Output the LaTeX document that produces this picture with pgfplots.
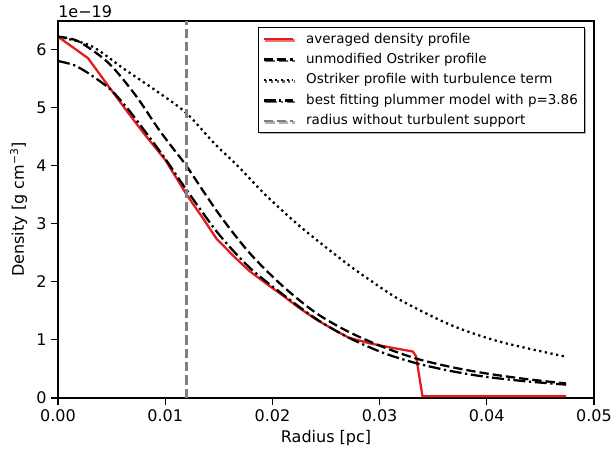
\documentclass[border=0pt]{standalone}
\usepackage{pgfplots}
\pgfplotsset{compat=1.18}
\usepackage{fontspec}
\setmainfont{DejaVu Sans}
\usetikzlibrary{shadows}
\definecolor{profred}{RGB}{228,26,28}
\definecolor{radgray}{RGB}{128,128,128}
\pgfplotsset{legend image code/.code={%
  \path (0pt,0pt) (29pt,0pt);
  \draw[#1] (0pt,0pt) -- (22pt,0pt);}}

\begin{document}
\begin{tikzpicture}
\begin{axis}[
    at={(0,0)}, anchor=south west,
    scale only axis, width=402pt, height=282.75pt,
    xmin=0, xmax=0.05, ymin=0, ymax=6.49,
    scaled x ticks=false, scaled y ticks=false,
    xtick={0,0.01,0.02,0.03,0.04,0.05},
    xticklabels={0.00,0.01,0.02,0.03,0.04,0.05},
    ytick={0,1,2,3,4,5,6},
    tick align=outside, tick pos=left,
    major tick length=5pt,
    every tick/.style={black, line width=0.8pt},
    axis line style={line width=1.9pt},
    ticklabel style={font=\fontsize{12}{14}\selectfont},
    label style={font=\fontsize{12}{14}\selectfont},
    /pgf/number format/assume math mode=true,
    xlabel={Radius [pc]},
    ylabel={Density [g cm\textsuperscript{−3}]},
    legend style={at={(0.983,0.984)}, anchor=north east, draw=black,
      line width=0.6pt, fill=white, row sep=2.2pt,
      drop shadow={shadow xshift=1.2pt, shadow yshift=-1.2pt, opacity=0.6},
      font=\fontsize{10.1}{13}\selectfont, cells={anchor=west}},
    every axis plot/.append style={line width=1.7pt},
  ]
% averaged density profile
\addplot[profred] coordinates {
  (0,6.22) (0.0028,5.85) (0.0047,5.37) (0.0065,4.92) (0.0082,4.51)
  (0.0100,4.10) (0.0120,3.50) (0.0135,3.10) (0.0148,2.74) (0.0165,2.42)
  (0.0179,2.18) (0.0195,1.96) (0.0210,1.76) (0.0225,1.55) (0.0241,1.35)
  (0.0256,1.19) (0.0271,1.04) (0.0291,0.94) (0.0310,0.87) (0.0331,0.80)
  (0.0334,0.72) (0.0340,0.03) (0.0474,0.03)};
% unmodified Ostriker
\addplot[black, smooth, dash pattern=on 7pt off 3pt] coordinates {
  (0,6.22) (0.0019,6.14) (0.0047,5.77) (0.0072,5.22) (0.0093,4.65)
  (0.0108,4.28) (0.0120,3.99) (0.0150,3.17) (0.0179,2.49) (0.0210,1.92)
  (0.0241,1.46) (0.0271,1.14) (0.0303,0.88) (0.0334,0.68) (0.0365,0.54)
  (0.0397,0.43) (0.0435,0.33) (0.0474,0.25)};
% Ostriker with turbulence
\addplot[black, smooth, dash pattern=on 1.7pt off 2.6pt] coordinates {
  (0,6.22) (0.0031,6.06) (0.0062,5.66) (0.0093,5.27) (0.0120,4.90)
  (0.0146,4.38) (0.0168,3.99) (0.0195,3.47) (0.0228,2.92) (0.0269,2.32)
  (0.0291,2.03) (0.0319,1.69) (0.0366,1.26) (0.0412,0.97) (0.0474,0.71)};
% plummer fit
\addplot[black, smooth, dash pattern=on 9pt off 2.7pt on 1.7pt off 2.7pt] coordinates {
  (0,5.80) (0.0015,5.73) (0.0030,5.57) (0.0049,5.31) (0.0065,4.98)
  (0.0082,4.57) (0.0100,4.12) (0.0120,3.58) (0.0150,2.82) (0.0179,2.24)
  (0.0210,1.78) (0.0241,1.36) (0.0271,1.04) (0.0303,0.78) (0.0334,0.60)
  (0.0365,0.47) (0.0397,0.37) (0.0435,0.29) (0.0474,0.23)};
% radius without turbulent support
\addplot[radgray, line width=1.9pt, dash pattern=on 7pt off 3pt] coordinates {(0.012,0) (0.012,6.49)};
\legend{averaged density profile, unmodified Ostriker profile,
  Ostriker profile with turbulence term,
  best fitting plummer model with p=3.86,
  radius without turbulent support}
\end{axis}
\node[anchor=base west, inner sep=0, font=\fontsize{12}{14}\selectfont]
  at ([yshift=2.5pt]current axis.north west) {1e−19};
\pgfresetboundingbox
\path (-43.5pt,-42pt) rectangle (417pt,298.5pt);
\end{tikzpicture}
\end{document}
